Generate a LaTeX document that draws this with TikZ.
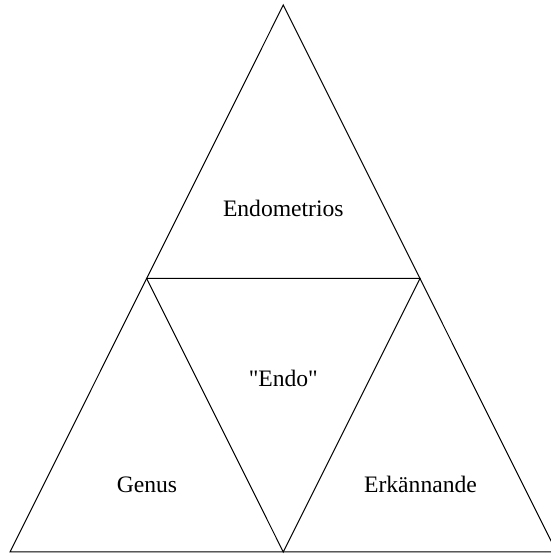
\documentclass[tikz,border=0pt]{standalone}
\usepackage{fontspec}
\setmainfont{Liberation Serif}
\usetikzlibrary{calc}
\begin{document}
\begin{tikzpicture}[
    x=1pt, y=1pt,
    edge/.style={draw=black, line width=1pt, line join=miter},
    label/.style={anchor=base, inner sep=0pt, font=\fontsize{23.6}{28}\selectfont},
]
\useasboundingbox (0,0) rectangle (551,554);
% Corners of the big triangle
\coordinate (top) at (283.3,549);
\coordinate (left) at (10,2);
\coordinate (right) at (556.6,2);
% Midpoints of its sides
\coordinate (midL) at ($(top)!0.5!(left)$);
\coordinate (midR) at ($(top)!0.5!(right)$);
\coordinate (midB) at ($(left)!0.5!(right)$);

% Outer triangle
\draw[edge] (top) -- (left) -- (right) -- cycle;
% Inner inverted triangle
\draw[edge] (midL) -- (midR) -- (midB) -- cycle;

% Labels
\node[label] (endometrios) at (283.3,337) {Endometrios};
\node[label] (endo) at (283.3,167) {\textquotedbl Endo\textquotedbl};
\node[label] (genus) at (147,61) {Genus};
\node[label] (erkannande) at (420.5,61) {Erkännande};
\end{tikzpicture}
\end{document}
